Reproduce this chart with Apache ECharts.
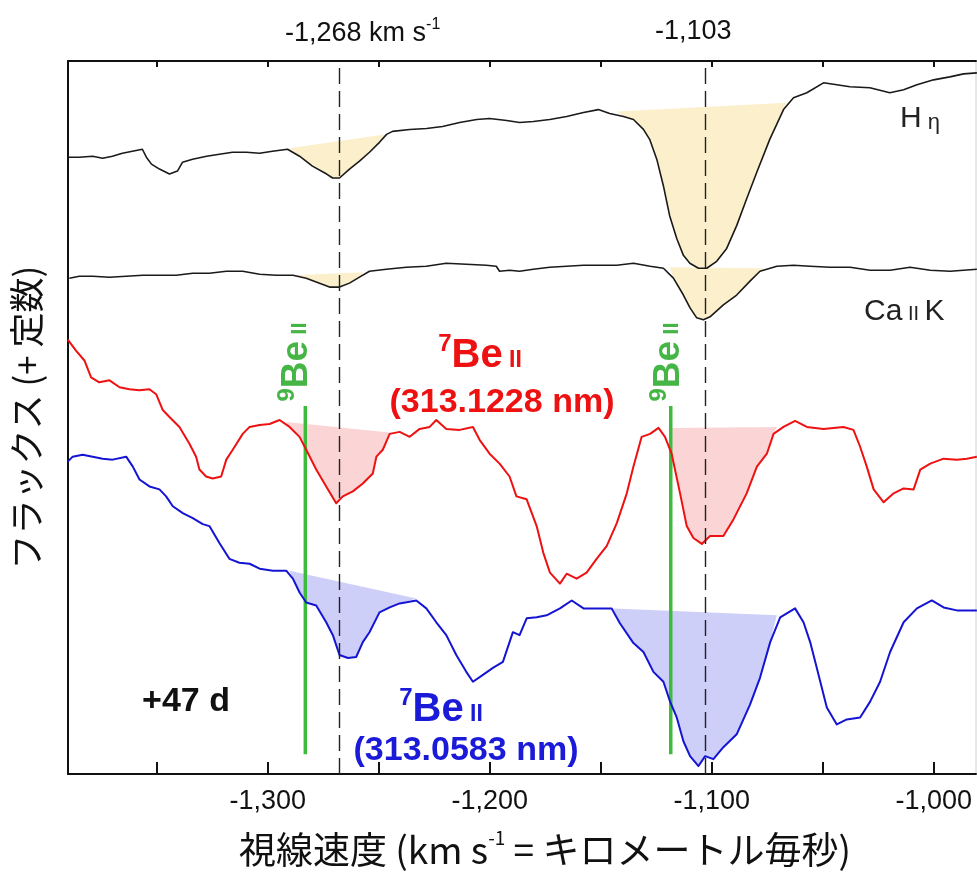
<!DOCTYPE html>
<html><head><meta charset="utf-8">
<script src="https://cdn.jsdelivr.net/npm/echarts@6/dist/echarts.min.js"></script>
<style>html,body{margin:0;padding:0;background:#fff}#c{width:977px;height:873px}</style>
</head><body><div id="c"></div>
<script>
// ---- data: [velocity (km/s), flux (+ constant)] ----
const hEta = [[-1390.0,6.22],[-1384.9,6.22],[-1378.9,6.23],[-1374.4,6.21],[-1370.0,6.23],[-1365.5,6.26],[-1361.0,6.28],[-1356.5,6.30],[-1354.7,6.22],[-1352.4,6.15],[-1348.8,6.10],[-1344.3,6.05],[-1340.7,6.08],[-1338.4,6.17],[-1333.9,6.20],[-1327.6,6.23],[-1321.8,6.25],[-1315.9,6.27],[-1309.6,6.27],[-1303.7,6.26],[-1297.9,6.28],[-1291.1,6.30],[-1285.7,6.23],[-1279.9,6.13],[-1273.5,6.05],[-1270.8,6.01],[-1267.7,6.01],[-1263.2,6.10],[-1258.7,6.18],[-1254.2,6.27],[-1249.7,6.37],[-1246.5,6.45],[-1243.8,6.48],[-1236.1,6.50],[-1228.5,6.51],[-1221.3,6.53],[-1213.6,6.57],[-1205.9,6.60],[-1200.1,6.61],[-1192.4,6.59],[-1186.6,6.57],[-1180.4,6.58],[-1173.0,6.60],[-1165.4,6.63],[-1157.8,6.67],[-1151.1,6.70],[-1146.0,6.66],[-1139.8,6.63],[-1135.3,6.60],[-1130.8,6.50],[-1128.0,6.40],[-1124.8,6.20],[-1121.8,5.93],[-1119.0,5.63],[-1115.8,5.40],[-1112.8,5.23],[-1109.9,5.15],[-1106.0,5.10],[-1102.3,5.10],[-1097.8,5.17],[-1093.3,5.30],[-1088.8,5.53],[-1084.3,5.80],[-1079.7,6.07],[-1073.9,6.40],[-1067.7,6.70],[-1063.2,6.82],[-1057.2,6.87],[-1049.7,6.97],[-1043.7,6.95],[-1037.8,6.93],[-1028.8,6.92],[-1019.8,6.87],[-1013.6,6.90],[-1007.6,6.95],[-1000.1,7.00],[-992.8,7.03],[-986.6,7.06],[-980.6,7.07]];

const caK = [[-1389.4,5.00],[-1384.9,5.02],[-1378.9,5.02],[-1371.3,5.01],[-1363.8,5.02],[-1356.3,5.03],[-1348.8,5.03],[-1341.3,5.03],[-1333.8,5.05],[-1326.3,5.05],[-1318.7,5.07],[-1311.3,5.07],[-1303.7,5.04],[-1296.2,5.03],[-1288.7,5.03],[-1282.7,5.00],[-1276.7,4.95],[-1272.2,4.91],[-1267.7,4.91],[-1263.2,4.95],[-1258.7,5.01],[-1254.2,5.07],[-1246.6,5.09],[-1237.6,5.11],[-1228.6,5.12],[-1219.6,5.15],[-1210.6,5.14],[-1201.6,5.13],[-1197.1,5.12],[-1195.6,5.07],[-1191.1,5.08],[-1186.6,5.07],[-1180.4,5.09],[-1173.0,5.11],[-1165.4,5.12],[-1157.8,5.13],[-1150.4,5.13],[-1142.8,5.13],[-1135.3,5.15],[-1127.8,5.12],[-1121.8,5.10],[-1117.3,5.00],[-1112.8,4.83],[-1109.8,4.70],[-1106.8,4.60],[-1103.8,4.58],[-1100.8,4.61],[-1094.8,4.73],[-1088.8,4.83],[-1082.8,4.97],[-1078.3,5.07],[-1070.7,5.12],[-1063.2,5.13],[-1055.7,5.12],[-1046.7,5.11],[-1037.7,5.11],[-1028.7,5.08],[-1019.7,5.08],[-1010.7,5.11],[-1001.6,5.08],[-992.6,5.07],[-980.6,5.09]];

const be7Red = [[-1390.1,4.38],[-1386.4,4.27],[-1382.6,4.17],[-1379.6,4.00],[-1375.9,3.95],[-1371.3,3.97],[-1366.8,3.90],[-1362.3,3.88],[-1357.8,3.87],[-1353.3,3.88],[-1350.3,3.83],[-1347.3,3.67],[-1344.3,3.60],[-1339.8,3.50],[-1335.3,3.33],[-1332.3,3.20],[-1330.8,3.07],[-1327.8,3.00],[-1324.8,2.98],[-1321.0,3.00],[-1318.7,3.17],[-1315.8,3.27],[-1311.3,3.43],[-1308.2,3.50],[-1303.7,3.52],[-1299.2,3.53],[-1294.7,3.57],[-1290.2,3.50],[-1285.7,3.40],[-1282.7,3.27],[-1278.2,3.07],[-1273.7,2.90],[-1269.2,2.73],[-1266.2,2.80],[-1261.7,2.85],[-1257.2,2.93],[-1252.7,3.03],[-1251.1,3.20],[-1248.2,3.27],[-1245.1,3.43],[-1240.6,3.45],[-1236.1,3.40],[-1231.6,3.48],[-1227.1,3.50],[-1224.1,3.57],[-1219.6,3.48],[-1213.6,3.47],[-1207.6,3.50],[-1204.6,3.37],[-1200.1,3.23],[-1195.6,3.13],[-1191.1,3.00],[-1188.0,2.80],[-1183.4,2.77],[-1178.9,2.50],[-1175.9,2.23],[-1172.9,2.03],[-1168.4,1.92],[-1165.4,2.02],[-1160.9,1.97],[-1156.4,2.03],[-1151.9,2.17],[-1147.3,2.30],[-1142.8,2.53],[-1138.3,2.83],[-1135.3,3.10],[-1131.6,3.40],[-1127.8,3.43],[-1124.0,3.49],[-1121.1,3.40],[-1118.1,3.23],[-1114.3,2.83],[-1111.3,2.50],[-1108.3,2.38],[-1104.5,2.32],[-1100.8,2.40],[-1094.8,2.40],[-1090.2,2.57],[-1084.3,2.83],[-1079.7,3.10],[-1075.2,3.23],[-1072.2,3.43],[-1067.7,3.50],[-1062.5,3.56],[-1057.2,3.50],[-1049.7,3.48],[-1040.7,3.50],[-1036.2,3.47],[-1033.2,3.30],[-1030.2,3.10],[-1027.1,2.87],[-1022.6,2.74],[-1018.1,2.83],[-1013.6,2.88],[-1009.1,2.87],[-1006.1,3.07],[-1001.6,3.13],[-995.6,3.18],[-989.6,3.17],[-985.1,3.18],[-980.6,3.20]];

const be7Blue = [[-1390.1,3.15],[-1387.9,3.20],[-1383.4,3.22],[-1378.9,3.20],[-1374.4,3.18],[-1369.9,3.17],[-1363.8,3.20],[-1360.8,3.10],[-1357.8,2.97],[-1353.3,2.90],[-1348.8,2.87],[-1345.8,2.80],[-1342.8,2.70],[-1338.3,2.63],[-1333.8,2.58],[-1329.3,2.52],[-1326.3,2.50],[-1321.8,2.33],[-1317.3,2.17],[-1312.8,2.13],[-1308.2,2.12],[-1303.7,2.07],[-1297.7,2.05],[-1291.7,2.05],[-1288.7,1.97],[-1285.7,1.83],[-1282.7,1.73],[-1278.2,1.70],[-1273.7,1.53],[-1270.7,1.40],[-1267.7,1.20],[-1263.9,1.17],[-1260.2,1.18],[-1257.2,1.33],[-1254.2,1.43],[-1249.7,1.63],[-1245.1,1.68],[-1240.6,1.72],[-1233.1,1.75],[-1228.6,1.67],[-1224.1,1.53],[-1219.6,1.40],[-1215.1,1.20],[-1210.6,1.03],[-1207.6,0.93],[-1203.1,1.00],[-1198.6,1.07],[-1194.1,1.13],[-1189.6,1.43],[-1186.6,1.40],[-1183.4,1.57],[-1178.9,1.58],[-1174.4,1.60],[-1168.4,1.67],[-1163.1,1.75],[-1157.8,1.67],[-1151.9,1.67],[-1145.1,1.67],[-1141.4,1.52],[-1135.3,1.32],[-1130.8,1.23],[-1126.3,1.03],[-1121.8,0.93],[-1118.8,0.73],[-1115.8,0.57],[-1112.8,0.33],[-1109.8,0.18],[-1106.0,0.08],[-1103.0,0.18],[-1099.3,0.15],[-1094.8,0.27],[-1088.8,0.40],[-1082.8,0.70],[-1078.3,0.97],[-1073.7,1.33],[-1069.2,1.58],[-1062.5,1.67],[-1058.7,1.53],[-1055.7,1.33],[-1052.7,1.07],[-1048.2,0.67],[-1043.7,0.50],[-1039.2,0.55],[-1033.2,0.57],[-1028.7,0.73],[-1024.2,0.93],[-1019.7,1.23],[-1013.6,1.53],[-1007.6,1.67],[-1000.9,1.75],[-995.6,1.68],[-989.6,1.65],[-980.6,1.65]];

// absorption regions: [continuum start, continuum end]
const hEtaFills = [[[-1290.3,6.31],[-1247.4,6.45]], [[-1142.8,6.68],[-1066.2,6.77]]];
const caKFills = [[[-1288.9,5.03],[-1257.0,5.06]], [[-1119.0,5.11],[-1076.5,5.10]]];
const redFills = [[[-1291.7,3.55],[-1244.0,3.44]], [[-1119.5,3.49],[-1070.7,3.50]]];
const blueFills = [[[-1290.2,2.05],[-1233.1,1.77]], [[-1144.3,1.67],[-1070.7,1.60]]];

const dashedVelocities = [-1268, -1103];
const be9Velocities = [-1283.1, -1118.5];
const be9Span = [0.20, 3.71];
const majorTicks = [-1300, -1200, -1100, -1000];
const minorTicks = [-1350, -1300, -1250, -1200, -1150, -1100, -1050, -1000];

const LAT = '"Liberation Sans", Arial, sans-serif';
const JP = '"Noto Sans CJK JP", sans-serif';

function fillSeries(curve, regions, color) {
  return {
    type: 'custom', z: 1, silent: true,
    data: regions.map((r, i) => [r[0][0], r[0][1], i]),
    renderItem: function (params, api) {
      const r = regions[params.dataIndex];
      const a = r[0], b = r[1];
      const pts = [api.coord(a)];
      curve.forEach(p => { if (p[0] > a[0] && p[0] < b[0]) pts.push(api.coord(p)); });
      pts.push(api.coord(b));
      return { type: 'polygon', shape: { points: pts }, style: { fill: color } };
    }
  };
}
function lineSeries(data, color, width) {
  return { type: 'line', data: data, symbol: 'none', showSymbol: false, z: 4, silent: true,
    lineStyle: { color: color, width: width, join: 'round' }, animation: false };
}
function beRich(color, sSize, bSize, rSize, lh) {
  const base = { fontWeight: 'bold', fontFamily: LAT, fill: color, lineHeight: lh };
  return {
    s: Object.assign({}, base, { fontSize: sSize, verticalAlign: 'top' }),
    b: Object.assign({}, base, { fontSize: bSize, verticalAlign: 'bottom' }),
    r: Object.assign({}, base, { fontSize: rSize, verticalAlign: 'bottom', padding: [0, 0, 4, 0] })
  };
}

const chart = echarts.init(document.getElementById('c'), null, { renderer: 'canvas' });
const axisCommon = { type: 'value', min: -1390, max: -981, splitLine: { show: false } };
const option = {
  animation: false,
  backgroundColor: '#fff',
  grid: { left: 68, right: 1, top: 61, bottom: 93, show: true, borderColor: '#d0d0d0', borderWidth: 1 },
  xAxis: [
    Object.assign({}, axisCommon, {
      position: 'bottom',
      axisLine: { onZero: false, lineStyle: { color: '#111', width: 2 } },
      axisTick: { inside: true, length: 12, customValues: minorTicks, lineStyle: { color: '#111', width: 2 } },
      axisLabel: { customValues: majorTicks, formatter: v => v.toLocaleString('en-US'), fontSize: 27, fontFamily: LAT, color: '#111', margin: 14 },
      name: '{n|視線速度 (km s}{s|-1}{n| = キロメートル毎秒)}',
      nameLocation: 'middle', nameGap: 50,
      nameTextStyle: { padding: [0, 0, 0, 46], rich: {
        n: { fontSize: 37, fontFamily: JP, color: '#111', lineHeight: 44, verticalAlign: 'bottom' },
        s: { fontSize: 19, fontFamily: JP, color: '#111', lineHeight: 44, verticalAlign: 'top', padding: [4, 0, 0, 0] } } }
    }),
    Object.assign({}, axisCommon, {
      position: 'top',
      axisLine: { onZero: false, lineStyle: { color: '#111', width: 2 } },
      axisTick: { inside: true, length: 6, customValues: minorTicks, lineStyle: { color: '#111', width: 2 } },
      axisLabel: { show: false }
    })
  ],
  yAxis: {
    type: 'value', min: 0, max: 7.19,
    axisLine: { show: true, onZero: false, lineStyle: { color: '#111', width: 2 } },
    axisTick: { show: false }, axisLabel: { show: false }, splitLine: { show: false },
    name: 'フラックス (+ 定数)', nameLocation: 'middle', nameRotate: 90, nameGap: 24,
    nameTextStyle: { fontSize: 35, fontFamily: JP, color: '#111', padding: [0, 0, 0, 0] }
  },
  series: [
    fillSeries(hEta, hEtaFills, '#fcefcc'),
    fillSeries(caK, caKFills, '#fcefcc'),
    fillSeries(be7Red, redFills, '#fbd5d5'),
    fillSeries(be7Blue, blueFills, '#cdcff8'),
    ...be9Velocities.map(v => ({ type: 'line', data: [[v, be9Span[0]], [v, be9Span[1]]], symbol: 'none', z: 3, silent: true,
      lineStyle: { color: '#3dbb3d', width: 3.5 } })),
    lineSeries(hEta, '#1a1a1a', 1.6),
    lineSeries(caK, '#1a1a1a', 1.6),
    lineSeries(be7Red, '#ee1111', 2),
    lineSeries(be7Blue, '#1414d2', 2),
    { type: 'line', data: [], z: 5, silent: true,
      markLine: { silent: true, symbol: 'none', animation: false, label: { show: false },
        lineStyle: { type: [16, 7], color: '#222', width: 1.4 },
        data: dashedVelocities.map(v => ({ xAxis: v })) } }
  ],
  graphic: [
    { type: 'text', x: 285, y: 32, style: { text: '{a|-1,268 km s}{b|-1}', verticalAlign: 'middle', rich: {
      a: { fontSize: 27, fontFamily: LAT, fill: '#111', lineHeight: 30, verticalAlign: 'bottom' },
      b: { fontSize: 16, fontFamily: LAT, fill: '#111', lineHeight: 30, verticalAlign: 'top' } } } },
    { type: 'text', x: 655, y: 32, style: { text: '-1,103', verticalAlign: 'middle', font: '27px ' + LAT, fill: '#111' } },
    { type: 'text', x: 900, y: 117, style: { text: '{a|H}{b| η}', verticalAlign: 'middle', rich: {
      a: { fontSize: 30, fontFamily: LAT, fill: '#222', lineHeight: 34, verticalAlign: 'bottom' },
      b: { fontSize: 22, fontFamily: LAT, fill: '#222', lineHeight: 34, verticalAlign: 'bottom' } } } },
    { type: 'text', x: 864, y: 310, style: { text: '{a|Ca}{b| II }{a|K}', verticalAlign: 'middle', rich: {
      a: { fontSize: 30, fontFamily: LAT, fill: '#222', lineHeight: 34, verticalAlign: 'bottom' },
      b: { fontSize: 20, fontFamily: LAT, fill: '#222', lineHeight: 34, verticalAlign: 'bottom', padding: [0,0,3,0] } } } },
    { type: 'text', x: 480, y: 354, style: { text: '{s|7}{b|Be}{r| II}', align: 'center', verticalAlign: 'middle', rich: beRich('#ee1111', 24, 40, 23, 44) } },
    { type: 'text', x: 502, y: 403, style: { text: '(313.1228 nm)', align: 'center', verticalAlign: 'middle', font: 'bold 34px ' + LAT, fill: '#ee1111' } },
    { type: 'text', x: 441, y: 708, style: { text: '{s|7}{b|Be}{r| II}', align: 'center', verticalAlign: 'middle', rich: beRich('#1a1ad8', 24, 40, 23, 44) } },
    { type: 'text', x: 466, y: 751, style: { text: '(313.0583 nm)', align: 'center', verticalAlign: 'middle', font: 'bold 34px ' + LAT, fill: '#1a1ad8' } },
    { type: 'text', x: 186, y: 702, style: { text: '+47 d', align: 'center', verticalAlign: 'middle', font: 'bold 34px ' + LAT, fill: '#111' } },
    ...[[295, 362], [667, 362]].map(p => ({ type: 'text', x: p[0], y: p[1], rotation: Math.PI / 2,
      style: { text: '{s|9}{b|Be}{r| II}', align: 'center', verticalAlign: 'middle', rich: beRich('#45b545', 24, 37, 22, 40) } }))
  ]
};
chart.setOption(option);
</script></body></html>
